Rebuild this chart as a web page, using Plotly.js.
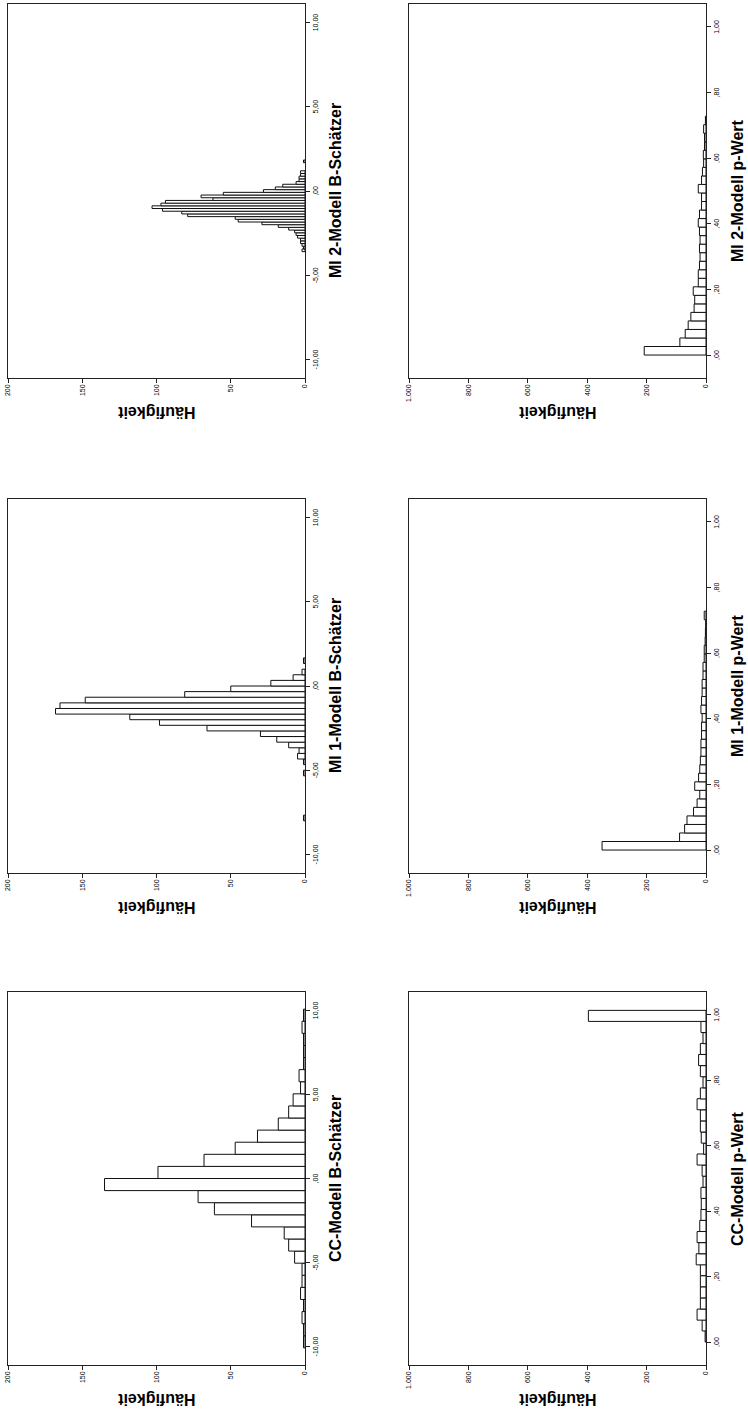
<!DOCTYPE html>
<html>
<head>
<meta charset="utf-8">
<script src="https://cdn.plot.ly/plotly-3.0.1.min.js"></script>
<style>
  html, body { margin: 0; padding: 0; background: #fff; width: 748px; height: 1413px; overflow: hidden; }
  #chart {
    position: absolute; left: 0; top: 0;
    width: 1413px; height: 748px;
    transform-origin: 0 0;
    transform: translate(0px, 1413px) rotate(-90deg);
  }
</style>
</head>
<body>
<div id="chart"></div>
<script>
// ---------- Data ----------
// CC-Modell B-Schätzer
const ccB_bins = [-9.72,-9.00,-8.28,-7.56,-6.84,-6.12,-5.40,-4.68,-3.96,-3.24,-2.52,-1.80,-1.08,-0.36,0.36,1.08,1.80,2.52,3.24,3.96,4.68,5.40,6.12,6.84,7.56,8.28,9.00,9.72];
const ccB_counts = [1,1,2,1,3,2,2,7,11,14,36,61,72,135,99,68,47,32,18,11,8,3,4,1,1,1,2,1];
const ccB_width = 0.72;

// MI 1-Modell B-Schätzer
const mi1B_bins = [-7.833,-5.167,-4.5,-4.167,-3.833,-3.5,-3.167,-2.833,-2.5,-2.167,-1.833,-1.5,-1.167,-0.833,-0.5,-0.167,0.167,0.5,0.833,1.5];
const mi1B_counts = [1,1,1,5,4,11,19,30,66,98,118,168,165,148,81,50,23,8,2,1];
const mi1B_width = 0.333;

// MI 2-Modell B-Schätzer
const mi2B_bins = [-3.52,-3.36,-3.20,-3.04,-2.88,-2.72,-2.56,-2.40,-2.24,-2.08,-1.92,-1.76,-1.60,-1.44,-1.28,-1.12,-0.96,-0.80,-0.64,-0.48,-0.32,-0.16,0.00,0.16,0.32,0.48,0.64,0.80,0.96,1.12,1.76];
const mi2B_counts = [2,1,2,3,3,5,6,7,11,18,29,45,47,79,83,96,103,97,94,62,70,55,28,20,15,6,4,4,3,3,1];
const mi2B_width = 0.16;

// CC-Modell p-Wert
const ccP_bins = [0.017,0.051,0.084,0.118,0.152,0.186,0.220,0.253,0.287,0.321,0.355,0.389,0.422,0.456,0.490,0.524,0.558,0.591,0.625,0.659,0.693,0.727,0.760,0.794,0.828,0.862,0.896,0.929,0.963,0.997];
const ccP_counts = [3,13,30,19,19,19,19,33,24,30,21,17,16,17,10,13,30,8,16,19,19,30,19,10,19,25,19,10,17,396];
const ccP_width = 0.0338;

// MI 1-Modell p-Wert
const mi1P_bins = [0.013,0.039,0.065,0.091,0.117,0.143,0.169,0.195,0.221,0.247,0.273,0.299,0.325,0.351,0.377,0.403,0.429,0.455,0.481,0.507,0.533,0.559,0.585,0.611,0.637,0.663,0.689,0.715];
const mi1P_counts = [350,89,72,64,42,30,21,38,25,21,19,17,17,15,15,13,17,15,13,13,10,10,6,6,3,2,1,6];
const mi1P_width = 0.026;

// MI 2-Modell p-Wert
const mi2P_bins = [0.013,0.039,0.065,0.091,0.117,0.143,0.169,0.195,0.221,0.247,0.273,0.299,0.325,0.351,0.377,0.403,0.429,0.455,0.481,0.507,0.533,0.559,0.585,0.611,0.637,0.663,0.689,0.715];
const mi2P_counts = [208,88,70,60,51,40,38,43,26,26,22,20,22,20,22,26,22,15,15,26,15,12,8,9,5,5,8,2];
const mi2P_width = 0.026;

// Titles and tick labels
const panelTitles = ["CC-Modell B-Schätzer","MI 1-Modell B-Schätzer","MI 2-Modell B-Schätzer",
                     "CC-Modell p-Wert","MI 1-Modell p-Wert","MI 2-Modell p-Wert"];
const yTitle = "Häufigkeit";
const bTickVals = [-10,-5,0,5,10];
const bTickText = ["-10,00","-5,00",",00","5,00","10,00"];
const pTickVals = [0,0.2,0.4,0.6,0.8,1.0];
const pTickText = [",00",",20",",40",",60",",80","1,00"];
const cBTickVals = [0,50,100,150,200];
const cBTickText = ["0","50","100","150","200"];
const cPTickVals = [0,200,400,600,800,1000];
const cPTickText = ["0","200","400","600","800","1.000"];

// ---------- Layout geometry (landscape, then rotated) ----------
const W = 1413, H = 748;
const colX = [[48,421],[540,914],[1035,1409]];
const rowY = [[8,305],[409,706]];
const FONT = 'Arial, "Liberation Sans", Helvetica, sans-serif';

const panels = [
  {bins: ccB_bins, counts: ccB_counts, width: ccB_width, type: 'B'},
  {bins: mi1B_bins, counts: mi1B_counts, width: mi1B_width, type: 'B'},
  {bins: mi2B_bins, counts: mi2B_counts, width: mi2B_width, type: 'B'},
  {bins: ccP_bins, counts: ccP_counts, width: ccP_width, type: 'P'},
  {bins: mi1P_bins, counts: mi1P_counts, width: mi1P_width, type: 'P'},
  {bins: mi2P_bins, counts: mi2P_counts, width: mi2P_width, type: 'P'}
];

const data = [];
const layout = {
  width: W, height: H,
  margin: {l:0, r:0, t:0, b:0},
  paper_bgcolor: '#fff', plot_bgcolor: '#fff',
  showlegend: false,
  font: {family: FONT, color: '#000', size: 7},
  annotations: [],
  bargap: 0
};

panels.forEach((p, i) => {
  const col = i % 3, row = Math.floor(i / 3);
  const n = i + 1;
  const xa = 'xaxis' + (n === 1 ? '' : n), ya = 'yaxis' + (n === 1 ? '' : n);
  const xr = 'x' + (n === 1 ? '' : n), yr = 'y' + (n === 1 ? '' : n);
  data.push({
    type: 'bar', x: p.bins, y: p.counts, width: p.width,
    xaxis: xr, yaxis: yr,
    marker: {color: '#ffffff', line: {color: '#111', width: 1}},
    hoverinfo: 'x+y'
  });
  const xd = [colX[col][0] / W, colX[col][1] / W];
  const yd = [(H - rowY[row][1]) / H, (H - rowY[row][0]) / H];
  const isB = p.type === 'B';
  layout[xa] = {
    domain: xd, anchor: yr,
    range: isB ? [-11.1, 11.1] : [-0.07, 1.07],
    tickmode: 'array',
    tickvals: isB ? bTickVals : pTickVals,
    ticktext: isB ? bTickText : pTickText,
    showline: true, mirror: true, linecolor: '#222', linewidth: 1,
    ticks: 'outside', ticklen: 4, tickcolor: '#222', tickwidth: 1,
    showgrid: false, zeroline: false,
    tickfont: {size: 7, family: FONT, color: '#000'},
    fixedrange: true
  };
  layout[ya] = {
    domain: yd, anchor: xr,
    range: isB ? [0, 200] : [0, 1000],
    tickmode: 'array',
    tickvals: isB ? cBTickVals : cPTickVals,
    ticktext: isB ? cBTickText : cPTickText,
    showline: true, mirror: true, linecolor: '#222', linewidth: 1,
    ticks: 'outside', ticklen: 4, tickcolor: '#222', tickwidth: 1,
    showgrid: false, zeroline: false,
    tickfont: {size: 7, family: FONT, color: '#000'},
    fixedrange: true
  };
  // Panel title (below the plot)
  const titleY = row === 0 ? 335 : 737;
  layout.annotations.push({
    xref: 'paper', yref: 'paper',
    x: (xd[0] + xd[1]) / 2, y: (H - titleY) / H,
    xanchor: 'center', yanchor: 'middle',
    text: '<b>' + panelTitles[i] + '</b>', showarrow: false,
    font: {size: 16, family: FONT, color: '#000'}
  });
  // Y axis title
  layout.annotations.push({
    xref: 'paper', yref: 'paper',
    x: (colX[col][0] - 34) / W, y: (yd[0] + yd[1]) / 2,
    xanchor: 'center', yanchor: 'middle', textangle: -90,
    text: '<b>' + yTitle + '</b>', showarrow: false,
    font: {size: 16, family: FONT, color: '#000'}
  });
});

Plotly.newPlot('chart', data, layout, {staticPlot: true, displayModeBar: false});
</script>
</body>
</html>
